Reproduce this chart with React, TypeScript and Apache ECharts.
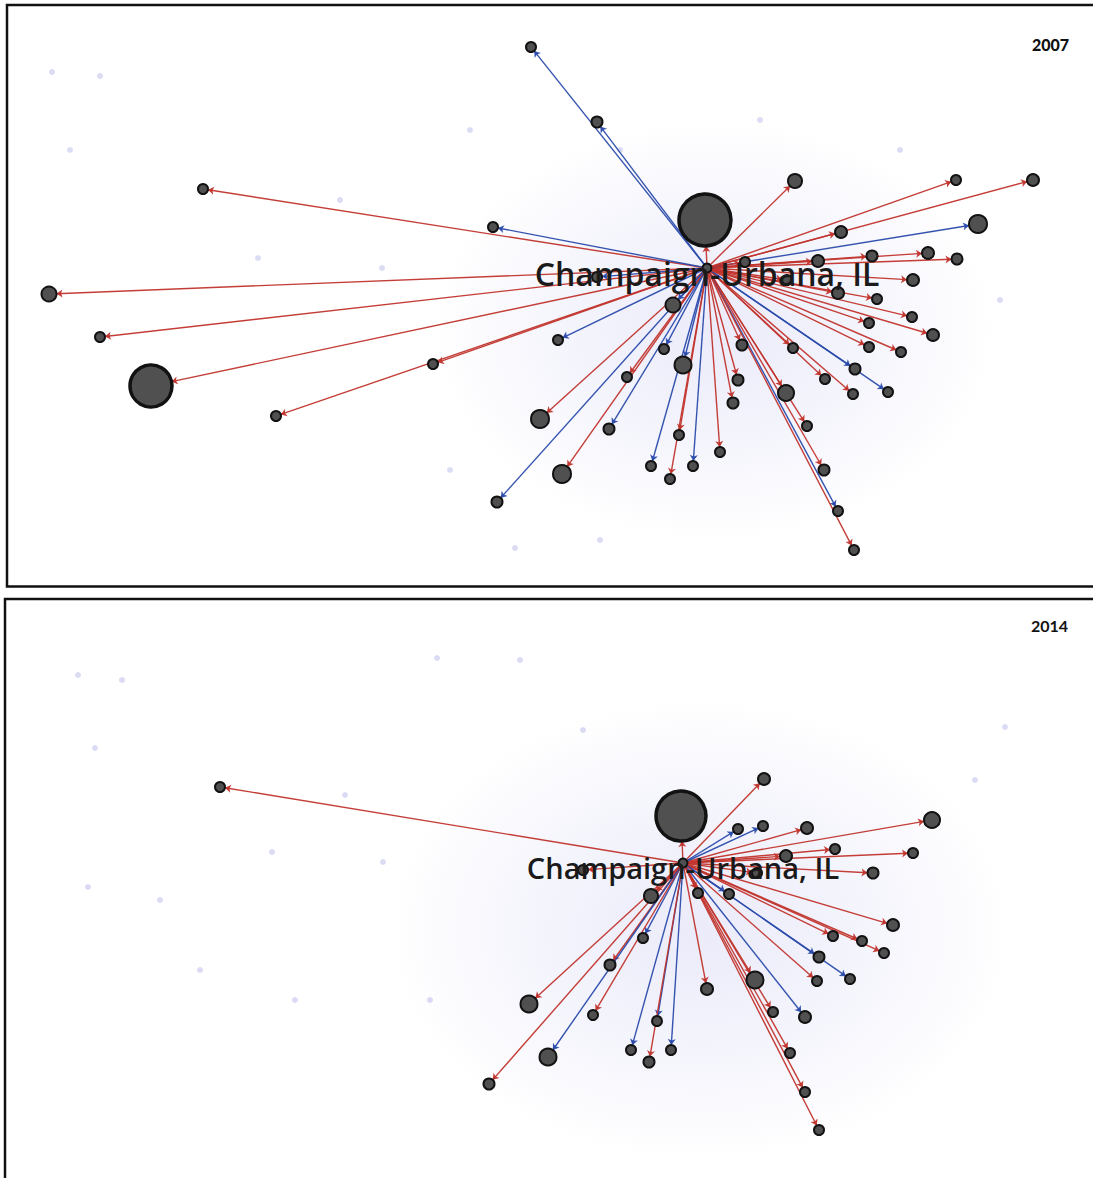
import React, { useEffect, useRef } from 'react';
import * as echarts from 'echarts';

const HUB_LABEL = 'Champaign-Urbana, IL';
const YEARS = ['2007', '2014'];

// hub position [x, y]
const hub2007 = [707, 268];
const hub2014 = [683, 863];

// partner nodes: [x, y, node diameter, flow] ; flow 'r' = red edge, 'b' = blue edge
const nodes2007: [number, number, number, string][] = [
  [705, 220, 52, 'r'], [531, 47, 10, 'b'], [597, 122, 11, 'b'], [203, 189, 10, 'r'],
  [493, 227, 10, 'b'], [49, 294, 15, 'r'], [100, 337, 10, 'r'], [151, 386, 42, 'r'],
  [276, 416, 10, 'r'], [433, 364, 10, 'r'], [558, 340, 10, 'b'], [540, 419, 18, 'r'],
  [497, 502, 11, 'b'], [562, 474, 18, 'r'], [609, 429, 11, 'b'], [627, 377, 10, 'r'],
  [664, 349, 10, 'b'], [683, 365, 17, 'b'], [673, 305, 15, 'b'], [651, 466, 10, 'b'],
  [670, 479, 10, 'r'], [693, 466, 10, 'b'], [679, 435, 10, 'r'], [720, 452, 10, 'r'],
  [733, 403, 11, 'r'], [738, 380, 11, 'r'], [742, 345, 11, 'r'], [786, 393, 16, 'r'],
  [807, 426, 10, 'r'], [824, 470, 11, 'r'], [838, 511, 10, 'b'], [854, 550, 10, 'r'],
  [793, 348, 10, 'r'], [825, 379, 10, 'r'], [853, 394, 10, 'r'], [888, 392, 10, 'b'],
  [855, 369, 11, 'b'], [869, 347, 10, 'r'], [901, 352, 10, 'r'], [869, 323, 10, 'r'],
  [933, 335, 12, 'r'], [912, 317, 10, 'r'], [877, 299, 10, 'r'], [913, 280, 12, 'r'],
  [838, 293, 12, 'r'], [818, 261, 12, 'r'], [872, 256, 11, 'r'], [928, 253, 12, 'r'],
  [957, 259, 11, 'r'], [841, 232, 12, 'r'], [978, 224, 18, 'b'], [956, 180, 10, 'r'],
  [1033, 180, 12, 'r'], [795, 181, 14, 'r'], [745, 262, 10, 'r'], [597, 277, 10, 'b'],
  [787, 280, 10, 'r'],
];

const nodes2014: [number, number, number, string][] = [
  [681, 816, 50, 'r'], [220, 787, 10, 'r'], [764, 779, 12, 'r'], [932, 820, 16, 'r'],
  [807, 828, 12, 'r'], [763, 826, 10, 'b'], [738, 829, 10, 'b'], [835, 849, 10, 'r'],
  [913, 853, 10, 'r'], [786, 856, 12, 'r'], [873, 873, 11, 'r'], [651, 896, 14, 'r'],
  [698, 893, 10, 'r'], [729, 894, 10, 'b'], [893, 925, 12, 'r'], [833, 936, 10, 'r'],
  [862, 941, 10, 'r'], [884, 953, 10, 'r'], [819, 957, 11, 'b'], [850, 979, 10, 'b'],
  [817, 981, 10, 'r'], [755, 980, 17, 'r'], [707, 989, 12, 'r'], [643, 938, 10, 'b'],
  [610, 965, 11, 'r'], [529, 1004, 17, 'r'], [593, 1015, 10, 'r'], [657, 1021, 10, 'b'],
  [631, 1050, 10, 'b'], [649, 1062, 11, 'r'], [671, 1050, 10, 'b'], [548, 1057, 17, 'b'],
  [489, 1084, 11, 'r'], [773, 1012, 10, 'r'], [805, 1017, 12, 'b'], [790, 1053, 10, 'r'],
  [805, 1092, 10, 'r'], [819, 1130, 10, 'r'], [583, 870, 10, 'r'], [757, 873, 10, 'r'],
];

// faint background nodes of the wider network
const faint2007 = [
  [52, 72], [100, 76], [70, 150], [258, 258], [382, 268], [340, 200], [470, 130],
  [620, 150], [760, 120], [900, 150], [1000, 300], [450, 470], [600, 540], [515, 548],
];
const faint2014 = [
  [78, 675], [122, 680], [95, 748], [88, 887], [272, 852], [383, 862], [345, 795],
  [200, 970], [583, 730], [520, 660], [437, 658], [295, 1000], [975, 780], [1005, 727],
  [160, 900], [430, 1000],
];
// centres of the faint haze clouds
const haze2007 = [[715, 330]];
const haze2014 = [[700, 930]];

const RED = '#c1342c';
const BLUE = '#2a4bab';

function graphSeries(hub: number[], nodes: [number, number, number, string][], idx: number, fontSize: number, offsetY: number) {
  const data: any[] = [
    {
      name: 'hub',
      value: hub,
      symbolSize: 9,
      label: {
        show: true,
        position: 'inside',
        formatter: HUB_LABEL,
        fontSize,
        fontWeight: 600,
        fontFamily: 'Open Sans',
        color: '#1a1a1a',
        offset: [0, offsetY],
      },
    },
  ];
  nodes.forEach((n, i) => {
    data.push({
      name: 'n' + i,
      value: [n[0], n[1]],
      symbolSize: n[2],
      itemStyle: { borderWidth: n[2] > 30 ? 3.5 : 2 },
    });
  });
  const links = nodes.map((n, i) => ({
    source: 'hub',
    target: 'n' + i,
    lineStyle: { color: n[3] === 'r' ? RED : BLUE },
  }));
  return {
    type: 'graph',
    coordinateSystem: 'cartesian2d',
    xAxisIndex: idx,
    yAxisIndex: idx,
    layout: 'none',
    z: 3,
    silent: true,
    symbol: 'circle',
    edgeSymbol: ['none', 'arrow'],
    edgeSymbolSize: [0, 6],
    itemStyle: { color: '#505050', borderColor: '#121212', borderWidth: 2 },
    lineStyle: { width: 1.4, opacity: 0.95, curveness: 0 },
    label: { show: false },
    emphasis: { disabled: true },
    data,
    links,
  };
}

function faintSeries(points: number[][], idx: number) {
  return {
    type: 'scatter',
    xAxisIndex: idx,
    yAxisIndex: idx,
    silent: true,
    z: 1,
    symbolSize: 6,
    itemStyle: { color: 'rgba(125,125,215,0.35)' },
    data: points,
  };
}

function hazeSeries(points: number[][], idx: number, size: number[]) {
  return {
    type: 'scatter',
    xAxisIndex: idx,
    yAxisIndex: idx,
    silent: true,
    z: 0,
    symbolSize: size,
    itemStyle: {
      color: new echarts.graphic.RadialGradient(0.5, 0.5, 0.5, [
        { offset: 0, color: 'rgba(150,150,230,0.24)' },
        { offset: 0.6, color: 'rgba(150,150,230,0.11)' },
        { offset: 1, color: 'rgba(150,150,230,0)' },
      ]),
    },
    data: points,
  };
}

export default function App() {
  const ref = useRef<HTMLDivElement>(null);
  useEffect(() => {
    document.body.style.margin = '0';
    const chart = echarts.init(ref.current!, null, { renderer: 'svg' });
    chart.setOption({
      animation: false,
      backgroundColor: '#ffffff',
      grid: [
        { left: 0, top: 0, width: 1093, height: 592 },
        { left: 0, top: 592, width: 1093, height: 586 },
      ],
      xAxis: [
        { gridIndex: 0, type: 'value', min: 0, max: 1093, show: false },
        { gridIndex: 1, type: 'value', min: 0, max: 1093, show: false },
      ],
      yAxis: [
        { gridIndex: 0, type: 'value', min: 0, max: 592, inverse: true, show: false },
        { gridIndex: 1, type: 'value', min: 592, max: 1178, inverse: true, show: false },
      ],
      graphic: [
        { type: 'rect', shape: { x: 7, y: 5, width: 1100, height: 581.5 }, style: { fill: 'none', stroke: '#111', lineWidth: 2.5 }, z: 10 },
        { type: 'rect', shape: { x: 5, y: 599, width: 1100, height: 600 }, style: { fill: 'none', stroke: '#111', lineWidth: 2.5 }, z: 10 },
        { type: 'text', x: 1069, y: 44, style: { text: YEARS[0], align: 'right', verticalAlign: 'middle', fontSize: 16, fontWeight: 900, fontFamily: 'Lato', fill: '#111' }, z: 10 },
        { type: 'text', x: 1068, y: 625, style: { text: YEARS[1], align: 'right', verticalAlign: 'middle', fontSize: 16, fontWeight: 'bold', fontFamily: 'Lato', fill: '#111' }, z: 10 },
      ],
      series: [
        hazeSeries(haze2007, 0, [560, 420]),
        hazeSeries(haze2014, 1, [620, 460]),
        faintSeries(faint2007, 0),
        faintSeries(faint2014, 1),
        graphSeries(hub2007, nodes2007, 0, 32, 5),
        graphSeries(hub2014, nodes2014, 1, 29, 4),
      ],
    });
    return () => chart.dispose();
  }, []);
  return <div ref={ref} style={{ width: 1093, height: 1178 }} />;
}
